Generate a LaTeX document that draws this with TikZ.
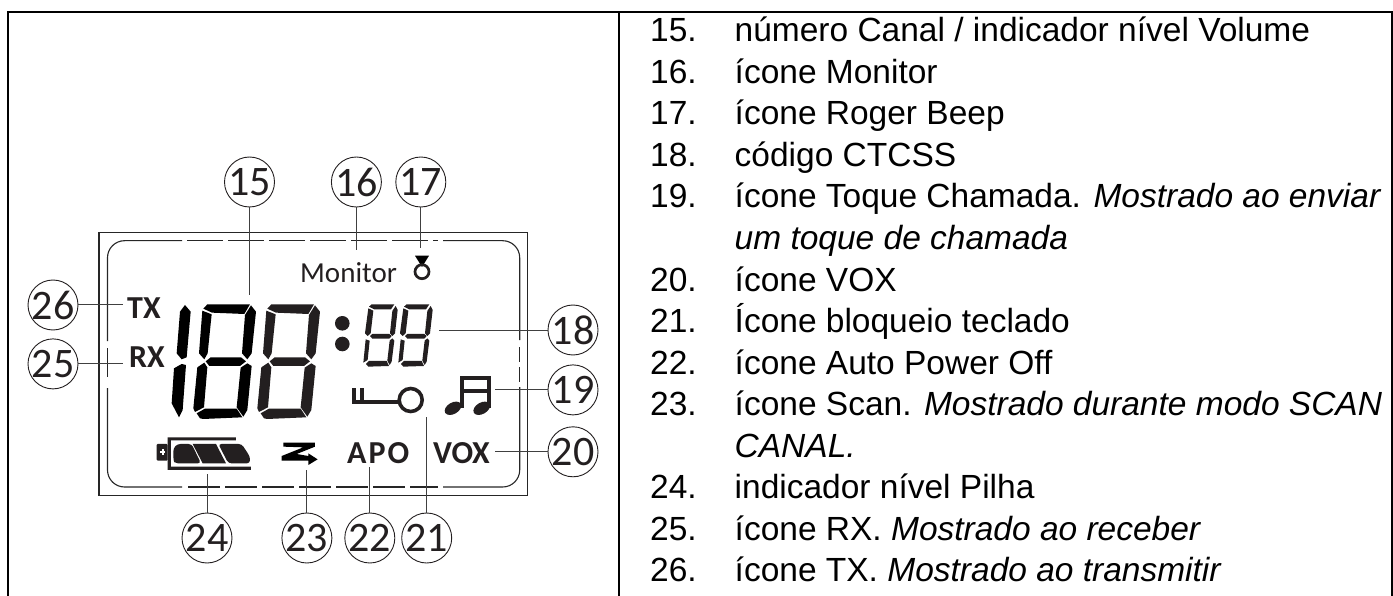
\documentclass[tikz,border=0pt]{standalone}
\usepackage{fontspec}
\setmainfont{Liberation Sans}
\newfontfamily\lcdfont{Carlito}
\usetikzlibrary{positioning}
\definecolor{lcdink}{HTML}{231F20}

\newcommand{\bigeight}[2]{%
\begin{scope}[shift={(#1,270)},x=0.3333pt,y=-0.3333pt,fill=#2]
\fill (112,103) -- (240,103) -- (223,132) -- (126,128) -- (100,116) -- cycle;
\fill (97,122) -- (125,133) -- (113,250) -- (103,268) -- (87,250) -- cycle;
\fill (243,106) -- (258,125) -- (245,250) -- (232,268) -- (216,250) -- (225,135) -- cycle;
\fill (107,274) -- (122,262) -- (213,262) -- (228,274) -- (210,288) -- (118,288) -- cycle;
\fill (103,278) -- (112,292) -- (102,412) -- (75,426) -- (70,415) -- (82,292) -- cycle;
\fill (232,280) -- (245,288) -- (232,420) -- (220,440) -- (200,412) -- (212,293) -- cycle;
\fill (80,430) -- (105,416) -- (200,416) -- (217,442) -- (100,447) -- (90,445) -- cycle;
\end{scope}}
\newcommand{\smalleight}[1]{%
\begin{scope}[shift={(#1,250)},x=0.3333pt,y=-0.3333pt,fill=lcdink]
\fill (50,163) -- (118,163) -- (108,178) -- (58,178) -- (42,170) -- cycle;
\fill (40,175) -- (55,182) -- (47,250) -- (38,258) -- (30,250) -- cycle;
\fill (122,168) -- (128,180) -- (120,250) -- (112,258) -- (105,250) -- (112,183) -- cycle;
\fill (45,258) -- (52,252) -- (103,252) -- (110,258) -- (103,266) -- (52,266) -- cycle;
\fill (32,268) -- (44,272) -- (38,330) -- (25,338) -- cycle;
\fill (112,265) -- (118,272) -- (110,335) -- (104,345) -- (97,332) -- (104,272) -- cycle;
\fill (33,342) -- (42,333) -- (95,333) -- (102,348) -- (40,350) -- cycle;
\end{scope}}

\begin{document}
\begin{tikzpicture}[x=1pt,y=-1pt,
  callout/.style={draw=lcdink,circle,line width=0.9pt,minimum size=50pt,inner sep=-8pt,text=lcdink,font=\lcdfont\fontsize{42}{42}\selectfont},
  leader/.style={draw=black!75,line width=1pt},
  frame/.style={draw=black!85,line width=1.1pt},
  lcdtxt/.style={inner sep=0pt,anchor=base west,text=lcdink,font=\lcdfont\bfseries\fontsize{32}{32}\selectfont},
  itemnum/.style={inner sep=0pt,anchor=base west,font=\fontsize{33.5}{33.5}\selectfont},
  itemtxt/.style={inner sep=0pt,anchor=base west,font=\fontsize{33.5}{33.5}\selectfont}]
\useasboundingbox (0,0) rectangle (1393,596);
% table rules
\draw[line width=2pt] (7.5,596) -- (7.5,11.7) -- (1392,11.7) -- (1392,596);
\draw[line width=1.4pt] (619,11.7) -- (619,596);
% lcd frame
\draw[frame] (99,232.7) rectangle (527.7,495.7);
\draw[frame,rounded corners=17pt] (182,240.7) -- (107.5,240.7) -- (107.5,341);
\draw[frame,rounded corners=17pt] (443,240.7) -- (519.7,240.7) -- (519.7,340);
\draw[frame,rounded corners=17pt] (107.5,388) -- (107.5,487) -- (182,487);
\draw[frame,rounded corners=17pt] (519.7,387) -- (519.7,487) -- (443,487);
\draw[frame,dash pattern=on 36pt off 5pt] (187,240.7) -- (438,240.7);
\draw[frame,dash pattern=on 32pt off 5pt] (188,487) -- (438,487);
\draw[frame,dash pattern=on 29pt off 10pt] (107.5,348) -- (107.5,382);
\draw[frame,dash pattern=on 15pt off 5pt] (519.7,347) -- (519.7,382);
% big digits
\begin{scope}[shift={(170,270)},x=0.3333pt,y=-0.3333pt]
\fill (45,105) -- (62,125) -- (50,262) -- (35,268) -- (20,250) -- (30,125) -- cycle;
\fill (35,282) -- (48,285) -- (38,420) -- (27,442) -- (5,400) -- (12,295) -- cycle;
\end{scope}
\bigeight{170}{black}
\bigeight{234}{lcdink}
\fill[lcdink] (342.3,323.3) circle [radius=7.3];
\fill[lcdink] (342.3,344) circle [radius=7.3];
\smalleight{355}
\smalleight{390}
% icons
\node[lcdtxt] (monitor) at (300,283) {\fontsize{29}{29}\selectfont\mdseries Monitor};
\fill[black] (415,255.7) -- (429,255.7) -- (422,267) -- cycle;
\draw[lcdink,line width=2.7pt] (422,271.7) circle [radius=7];
\node[lcdtxt] (tx) at (127,319) {TX};
\node[lcdtxt] (rx) at (129,367) {RX};
\node[lcdtxt] (apo) at (347,463) {A\kern2pt P\kern2pt O};
\node[lcdtxt] (vox) at (433,463) {VOX};
% key
\draw[lcdink,line width=3.6pt] (410.7,400) circle [radius=11.5];
\fill[lcdink] (351.7,388.3) rectangle (355.7,403.5);
\fill[lcdink] (360,388.3) rectangle (364,403.5);
\fill[lcdink] (351.7,400) rectangle (399,403.5);
% note
\fill[lcdink] (460,376) rectangle (490.7,380);
\fill[lcdink] (460,388.5) rectangle (490.7,392.5);
\fill[lcdink] (460,376) rectangle (464,408);
\fill[lcdink] (486.7,376) rectangle (490.7,408);
\fill[lcdink,rotate around={30:(453,408.3)}] (453,408.3) circle [x radius=9,y radius=5.7];
\fill[lcdink,rotate around={30:(481.7,408.3)}] (481.7,408.3) circle [x radius=9,y radius=5.7];
% battery and scan
\begin{scope}[shift={(140,430)},x=0.3333pt,y=-0.3333pt]
\fill[lcdink] (83,22) -- (288,22) -- (288,31) -- (93,31) -- (93,110) -- (333,110) -- (333,120) -- (83,120) -- cycle;
\fill[lcdink,rounded corners=1pt] (50,42) rectangle (83,92);
\fill[white] (60,64) rectangle (76,70);
\fill[white] (65,58) rectangle (71,76);
\fill[lcdink,rounded corners=3pt] (112,42) -- (155,42) -- (183,100) -- (105,100) -- (100,90) -- (100,55) -- cycle;
\fill[lcdink] (158,42) -- (228,42) -- (258,100) -- (188,100) -- cycle;
\fill[lcdink,rounded corners=3pt] (235,42) -- (305,42) -- (330,80) -- (330,100) -- (265,100) -- cycle;
\fill[black] (430,38) -- (525,38) -- (525,50) -- (470,72) -- (505,78) -- (505,70) -- (533,88) -- (505,105) -- (505,92) -- (425,92) -- (425,78) -- (490,52) -- (430,50) -- cycle;
\end{scope}
% callouts
\node[callout] (n15) at (249.5,182) {15};
\node[callout,right=56pt of n15] (n16) {16};
\node[callout,right=13.5pt of n16] (n17) {17};
\node[callout] (n18) at (573,330) {18};
\node[callout,below=9pt of n18] (n19) {19};
\node[callout,below=11pt of n19] (n20) {20};
\node[callout] (n26) at (53,305) {26};
\node[callout,below=8pt of n26] (n25) {25};
\node[callout] (n24) at (207,538) {24};
\node[callout,right=49pt of n24] (n23) {23};
\node[callout,right=12pt of n23] (n22) {22};
\node[callout,right=6pt of n22] (n21) {21};
% leader ends
\coordinate (e15) at (n15.south |- 0,295);
\coordinate (e16) at (n16.south |- 0,250);
\coordinate (e17) at (n17.south |- 0,248);
\coordinate (e18) at (439,0 |- n18.west);
\coordinate (e19) at (495,0 |- n19.west);
\coordinate (e20) at (495,0 |- n20.west);
\coordinate (e21) at (n21.north |- 0,417);
\coordinate (e22) at (n22.north |- 0,467);
\coordinate (e23) at (n23.north |- 0,470);
\coordinate (e24) at (n24.north |- 0,474);
\coordinate (e25) at (123,0 |- n25.east);
\coordinate (e26) at (123,0 |- n26.east);
\draw[leader] (n15) -- (e15);
\draw[leader] (n16) -- (e16);
\draw[leader] (n17) -- (e17);
\draw[leader] (n18) -- (e18);
\draw[leader] (n19) -- (e19);
\draw[leader] (n20) -- (e20);
\draw[leader] (n21) -- (e21);
\draw[leader] (n22) -- (e22);
\draw[leader] (n23) -- (e23);
\draw[leader] (n24) -- (e24);
\draw[leader] (n25) -- (e25);
\draw[leader] (n26) -- (e26);
% legend
\node[itemnum] (i15) at (650,42) {15.};
\node[itemtxt] (t15) at (734.5,42) {número Canal / indicador nível Volume};
\node[itemnum] (i16) at (650,83.5) {16.};
\node[itemtxt] (t16) at (734.5,83.5) {ícone Monitor};
\node[itemnum] (i17) at (650,125) {17.};
\node[itemtxt] (t17) at (734.5,125) {ícone Roger Beep};
\node[itemnum] (i18) at (650,166.5) {18.};
\node[itemtxt] (t18) at (734.5,166.5) {código CTCSS};
\node[itemnum] (i19) at (650,208) {19.};
\node[itemtxt] (t19) at (734.5,208) {ícone Toque Chamada. \textit{Mostrado ao enviar}};
\node[itemtxt] (t19b) at (734.5,249.5) {\textit{um toque de chamada}};
\node[itemnum] (i20) at (650,291) {20.};
\node[itemtxt] (t20) at (734.5,291) {ícone VOX};
\node[itemnum] (i21) at (650,332.5) {21.};
\node[itemtxt] (t21) at (734.5,332.5) {Ícone bloqueio teclado};
\node[itemnum] (i22) at (650,374) {22.};
\node[itemtxt] (t22) at (734.5,374) {ícone Auto Power Off};
\node[itemnum] (i23) at (650,415.5) {23.};
\node[itemtxt] (t23) at (734.5,415.5) {ícone Scan. \textit{Mostrado durante modo SCAN}};
\node[itemtxt] (t23b) at (734.5,457) {\textit{CANAL.}};
\node[itemnum] (i24) at (650,498.5) {24.};
\node[itemtxt] (t24) at (734.5,498.5) {indicador nível Pilha};
\node[itemnum] (i25) at (650,540) {25.};
\node[itemtxt] (t25) at (734.5,540) {ícone RX. \textit{Mostrado ao receber}};
\node[itemnum] (i26) at (650,581.5) {26.};
\node[itemtxt] (t26) at (734.5,581.5) {ícone TX. \textit{Mostrado ao transmitir}};
\end{tikzpicture}
\end{document}
